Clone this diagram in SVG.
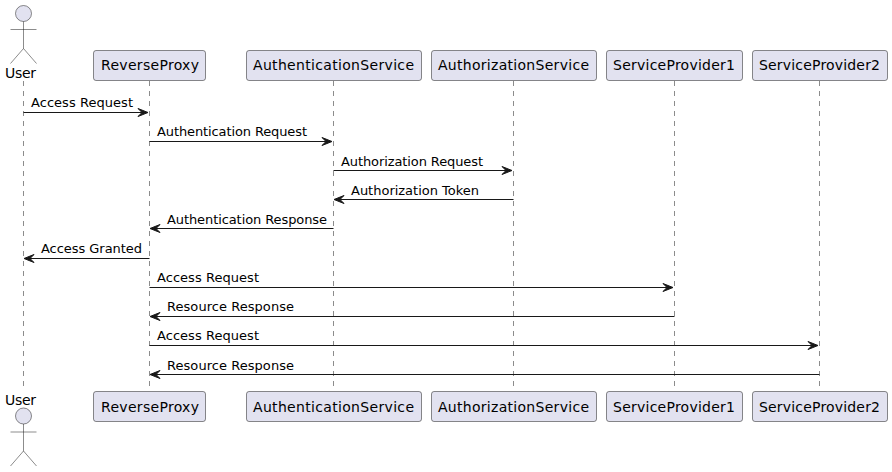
<svg xmlns="http://www.w3.org/2000/svg" width="892" height="472" viewBox="0 0 892 472">
<style>
text{font-family:"DejaVu Sans",sans-serif;fill:#000}
.p{font-size:14px}
.m{font-size:13px}
.box{fill:#E2E2F0;stroke:#181818;stroke-width:.5}
.act{fill:none;stroke:#181818;stroke-width:.5}
.head{fill:#E2E2F0;stroke:#181818;stroke-width:.5}
.life{stroke:#181818;stroke-width:.5;stroke-dasharray:5 5;fill:none}
.msg{stroke:#181818;stroke-width:1;fill:none}
.ah{fill:#181818;stroke:#181818;stroke-width:1}
</style>
<defs>
<g id="stick"><circle class="head" cx="23.5" cy="13.5" r="8"/><path class="act" d="M23.5 21.5V48.5M10.5 29.5H36.5M23.5 48.5L10.5 63.5M23.5 48.5L36.5 63.5"/></g>
</defs>
<g id="lifelines">
<path class="life" d="M23.5 81V387"/>
<path class="life" d="M149.5 81V387"/>
<path class="life" d="M333.5 81V387"/>
<path class="life" d="M513.5 81V387"/>
<path class="life" d="M674.5 81V387"/>
<path class="life" d="M819.5 81V387"/>
</g>
<g id="user-top"><use href="#stick" x="0" y="0"/><text class="p" x="5" y="78" textLength="31">User</text></g>
<g id="user-bottom"><text class="p" x="5" y="405" textLength="31">User</text><use href="#stick" x="0" y="402.5"/></g>
<g id="rp-top"><rect class="box" x="93.5" y="50.5" width="112" height="30" rx="2.5"/><text class="p" x="101" y="70" textLength="98">ReverseProxy</text></g>
<g id="as-top"><rect class="box" x="246.5" y="50.5" width="175" height="30" rx="2.5"/><text class="p" x="253" y="70" textLength="161">AuthenticationService</text></g>
<g id="az-top"><rect class="box" x="431.5" y="50.5" width="165" height="30" rx="2.5"/><text class="p" x="438" y="70" textLength="151">AuthorizationService</text></g>
<g id="sp1-top"><rect class="box" x="606.5" y="50.5" width="136" height="30" rx="2.5"/><text class="p" x="613" y="70" textLength="122">ServiceProvider1</text></g>
<g id="sp2-top"><rect class="box" x="752.5" y="50.5" width="135" height="30" rx="2.5"/><text class="p" x="759" y="70" textLength="121">ServiceProvider2</text></g>
<g id="rp-bottom"><rect class="box" x="93.5" y="391.5" width="112" height="30" rx="2.5"/><text class="p" x="101" y="412" textLength="98">ReverseProxy</text></g>
<g id="as-bottom"><rect class="box" x="246.5" y="391.5" width="175" height="30" rx="2.5"/><text class="p" x="253" y="412" textLength="161">AuthenticationService</text></g>
<g id="az-bottom"><rect class="box" x="431.5" y="391.5" width="165" height="30" rx="2.5"/><text class="p" x="438" y="412" textLength="151">AuthorizationService</text></g>
<g id="sp1-bottom"><rect class="box" x="606.5" y="391.5" width="136" height="30" rx="2.5"/><text class="p" x="613" y="412" textLength="122">ServiceProvider1</text></g>
<g id="sp2-bottom"><rect class="box" x="752.5" y="391.5" width="135" height="30" rx="2.5"/><text class="p" x="759" y="412" textLength="121">ServiceProvider2</text></g>
<g id="connectors">
<path class="msg" d="M23.5 112.5H144"/><polygon class="ah" points="138,108.5 148,112.5 138,116.5 142,112.5"/>
<path class="msg" d="M149.5 141.5H328"/><polygon class="ah" points="322,137.5 332,141.5 322,145.5 326,141.5"/>
<path class="msg" d="M333.5 170.5H508"/><polygon class="ah" points="502,166.5 512,170.5 502,174.5 506,170.5"/>
<path class="msg" d="M338 199.5H513.5"/><polygon class="ah" points="344,195.5 334,199.5 344,203.5 340,199.5"/>
<path class="msg" d="M154 228.5H333.5"/><polygon class="ah" points="160,224.5 150,228.5 160,232.5 156,228.5"/>
<path class="msg" d="M28 258.5H149.5"/><polygon class="ah" points="34,254.5 24,258.5 34,262.5 30,258.5"/>
<path class="msg" d="M149.5 287.5H669"/><polygon class="ah" points="663,283.5 673,287.5 663,291.5 667,287.5"/>
<path class="msg" d="M154 316.5H674.5"/><polygon class="ah" points="160,312.5 150,316.5 160,320.5 156,316.5"/>
<path class="msg" d="M149.5 345.5H814"/><polygon class="ah" points="808,341.5 818,345.5 808,349.5 812,345.5"/>
<path class="msg" d="M154 374.5H819.5"/><polygon class="ah" points="160,370.5 150,374.5 160,378.5 156,374.5"/>
</g>
<g id="labels">
<text class="m" x="31" y="107" textLength="102">Access Request</text>
<text class="m" x="157" y="136" textLength="150">Authentication Request</text>
<text class="m" x="341" y="166" textLength="142">Authorization Request</text>
<text class="m" x="351" y="195" textLength="128">Authorization Token</text>
<text class="m" x="167" y="224" textLength="160">Authentication Response</text>
<text class="m" x="41" y="253" textLength="101">Access Granted</text>
<text class="m" x="157" y="282" textLength="102">Access Request</text>
<text class="m" x="167" y="311" textLength="127">Resource Response</text>
<text class="m" x="157" y="340" textLength="102">Access Request</text>
<text class="m" x="167" y="370" textLength="127">Resource Response</text>
</g>
</svg>
